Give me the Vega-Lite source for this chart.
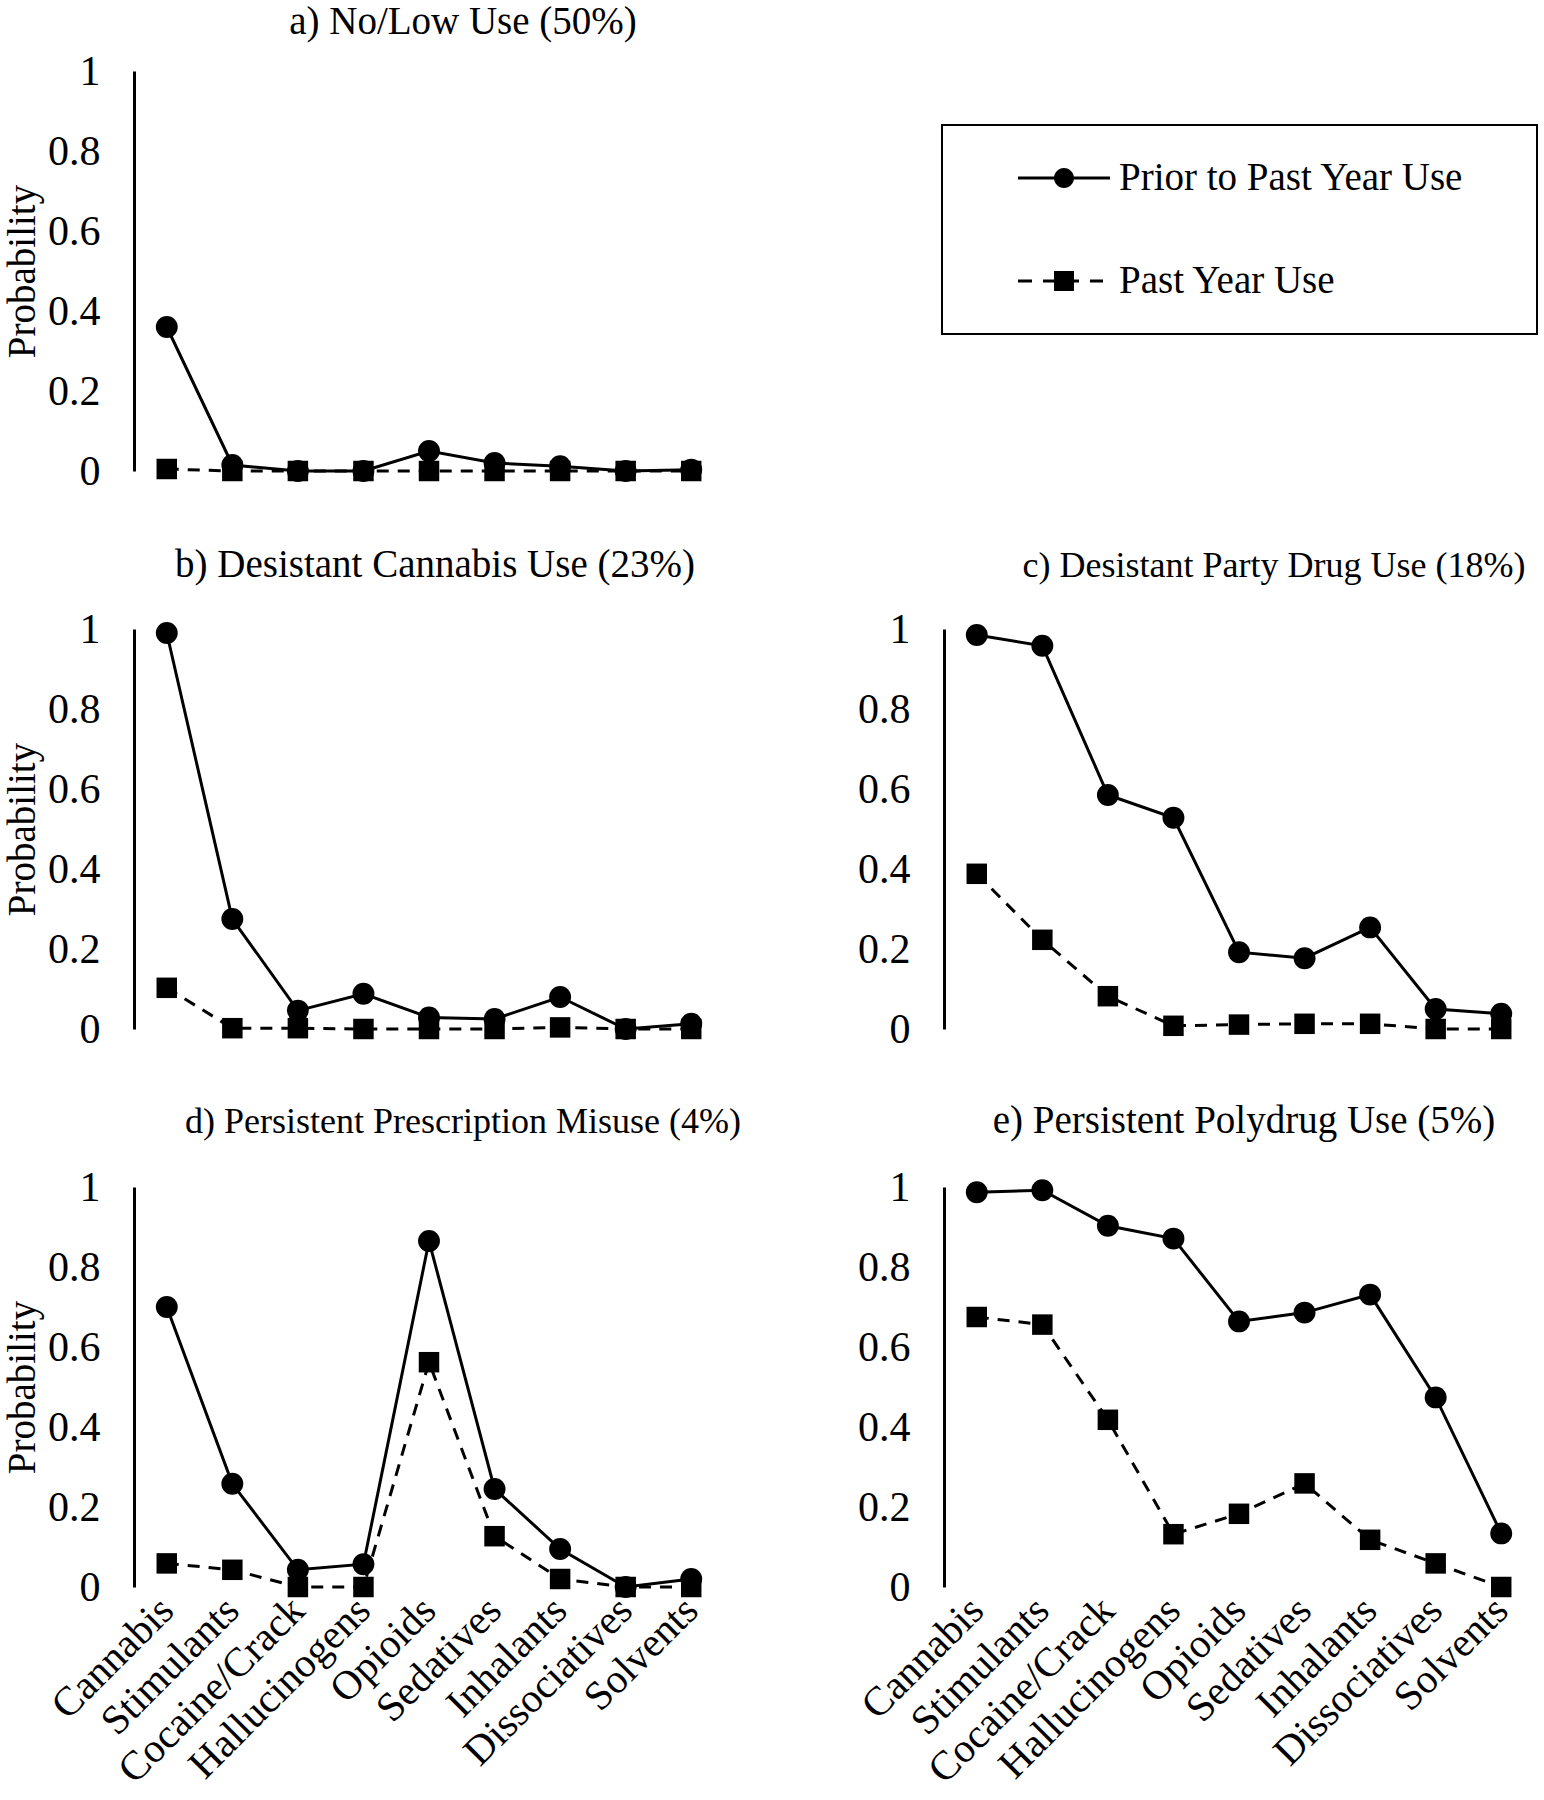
{
  "$schema": "https://vega.github.io/schema/vega-lite/v6.json",
  "autosize": {"type": "pad"},
  "padding": {"left": 3, "top": 3, "right": 0, "bottom": 0},
  "background": "white",
  "datasets": {
    "a": [
      {"drug": "Cannabis", "series": "Prior to Past Year Use", "p": 0.36},
      {"drug": "Stimulants", "series": "Prior to Past Year Use", "p": 0.015},
      {"drug": "Cocaine/Crack", "series": "Prior to Past Year Use", "p": 0.0},
      {"drug": "Hallucinogens", "series": "Prior to Past Year Use", "p": 0.0},
      {"drug": "Opioids", "series": "Prior to Past Year Use", "p": 0.05},
      {"drug": "Sedatives", "series": "Prior to Past Year Use", "p": 0.02},
      {"drug": "Inhalants", "series": "Prior to Past Year Use", "p": 0.012},
      {"drug": "Dissociatives", "series": "Prior to Past Year Use", "p": 0.0},
      {"drug": "Solvents", "series": "Prior to Past Year Use", "p": 0.003},
      {"drug": "Cannabis", "series": "Past Year Use", "p": 0.005},
      {"drug": "Stimulants", "series": "Past Year Use", "p": 0.0},
      {"drug": "Cocaine/Crack", "series": "Past Year Use", "p": 0.0},
      {"drug": "Hallucinogens", "series": "Past Year Use", "p": 0.0},
      {"drug": "Opioids", "series": "Past Year Use", "p": 0.0},
      {"drug": "Sedatives", "series": "Past Year Use", "p": 0.0},
      {"drug": "Inhalants", "series": "Past Year Use", "p": 0.0},
      {"drug": "Dissociatives", "series": "Past Year Use", "p": 0.0},
      {"drug": "Solvents", "series": "Past Year Use", "p": 0.0}
    ],
    "b": [
      {"drug": "Cannabis", "series": "Prior to Past Year Use", "p": 0.99},
      {"drug": "Stimulants", "series": "Prior to Past Year Use", "p": 0.275},
      {"drug": "Cocaine/Crack", "series": "Prior to Past Year Use", "p": 0.046},
      {"drug": "Hallucinogens", "series": "Prior to Past Year Use", "p": 0.088},
      {"drug": "Opioids", "series": "Prior to Past Year Use", "p": 0.029},
      {"drug": "Sedatives", "series": "Prior to Past Year Use", "p": 0.025},
      {"drug": "Inhalants", "series": "Prior to Past Year Use", "p": 0.08},
      {"drug": "Dissociatives", "series": "Prior to Past Year Use", "p": 0.0},
      {"drug": "Solvents", "series": "Prior to Past Year Use", "p": 0.013},
      {"drug": "Cannabis", "series": "Past Year Use", "p": 0.103},
      {"drug": "Stimulants", "series": "Past Year Use", "p": 0.002},
      {"drug": "Cocaine/Crack", "series": "Past Year Use", "p": 0.002},
      {"drug": "Hallucinogens", "series": "Past Year Use", "p": 0.0},
      {"drug": "Opioids", "series": "Past Year Use", "p": 0.0},
      {"drug": "Sedatives", "series": "Past Year Use", "p": 0.0},
      {"drug": "Inhalants", "series": "Past Year Use", "p": 0.004},
      {"drug": "Dissociatives", "series": "Past Year Use", "p": 0.0},
      {"drug": "Solvents", "series": "Past Year Use", "p": 0.0}
    ],
    "c": [
      {"drug": "Cannabis", "series": "Prior to Past Year Use", "p": 0.985},
      {"drug": "Stimulants", "series": "Prior to Past Year Use", "p": 0.958},
      {"drug": "Cocaine/Crack", "series": "Prior to Past Year Use", "p": 0.585},
      {"drug": "Hallucinogens", "series": "Prior to Past Year Use", "p": 0.528},
      {"drug": "Opioids", "series": "Prior to Past Year Use", "p": 0.192},
      {"drug": "Sedatives", "series": "Prior to Past Year Use", "p": 0.177},
      {"drug": "Inhalants", "series": "Prior to Past Year Use", "p": 0.254},
      {"drug": "Dissociatives", "series": "Prior to Past Year Use", "p": 0.05},
      {"drug": "Solvents", "series": "Prior to Past Year Use", "p": 0.038},
      {"drug": "Cannabis", "series": "Past Year Use", "p": 0.388},
      {"drug": "Stimulants", "series": "Past Year Use", "p": 0.223},
      {"drug": "Cocaine/Crack", "series": "Past Year Use", "p": 0.082},
      {"drug": "Hallucinogens", "series": "Past Year Use", "p": 0.008},
      {"drug": "Opioids", "series": "Past Year Use", "p": 0.011},
      {"drug": "Sedatives", "series": "Past Year Use", "p": 0.013},
      {"drug": "Inhalants", "series": "Past Year Use", "p": 0.013},
      {"drug": "Dissociatives", "series": "Past Year Use", "p": 0.0},
      {"drug": "Solvents", "series": "Past Year Use", "p": 0.0}
    ],
    "d": [
      {"drug": "Cannabis", "series": "Prior to Past Year Use", "p": 0.70},
      {"drug": "Stimulants", "series": "Prior to Past Year Use", "p": 0.258},
      {"drug": "Cocaine/Crack", "series": "Prior to Past Year Use", "p": 0.043},
      {"drug": "Hallucinogens", "series": "Prior to Past Year Use", "p": 0.057},
      {"drug": "Opioids", "series": "Prior to Past Year Use", "p": 0.865},
      {"drug": "Sedatives", "series": "Prior to Past Year Use", "p": 0.245},
      {"drug": "Inhalants", "series": "Prior to Past Year Use", "p": 0.095},
      {"drug": "Dissociatives", "series": "Prior to Past Year Use", "p": 0.0},
      {"drug": "Solvents", "series": "Prior to Past Year Use", "p": 0.02},
      {"drug": "Cannabis", "series": "Past Year Use", "p": 0.059},
      {"drug": "Stimulants", "series": "Past Year Use", "p": 0.043},
      {"drug": "Cocaine/Crack", "series": "Past Year Use", "p": 0.0},
      {"drug": "Hallucinogens", "series": "Past Year Use", "p": 0.0},
      {"drug": "Opioids", "series": "Past Year Use", "p": 0.562},
      {"drug": "Sedatives", "series": "Past Year Use", "p": 0.127},
      {"drug": "Inhalants", "series": "Past Year Use", "p": 0.02},
      {"drug": "Dissociatives", "series": "Past Year Use", "p": 0.0},
      {"drug": "Solvents", "series": "Past Year Use", "p": 0.0}
    ],
    "e": [
      {"drug": "Cannabis", "series": "Prior to Past Year Use", "p": 0.987},
      {"drug": "Stimulants", "series": "Prior to Past Year Use", "p": 0.992},
      {"drug": "Cocaine/Crack", "series": "Prior to Past Year Use", "p": 0.903},
      {"drug": "Hallucinogens", "series": "Prior to Past Year Use", "p": 0.871},
      {"drug": "Opioids", "series": "Prior to Past Year Use", "p": 0.664},
      {"drug": "Sedatives", "series": "Prior to Past Year Use", "p": 0.686},
      {"drug": "Inhalants", "series": "Prior to Past Year Use", "p": 0.731},
      {"drug": "Dissociatives", "series": "Prior to Past Year Use", "p": 0.474},
      {"drug": "Solvents", "series": "Prior to Past Year Use", "p": 0.134},
      {"drug": "Cannabis", "series": "Past Year Use", "p": 0.675},
      {"drug": "Stimulants", "series": "Past Year Use", "p": 0.656},
      {"drug": "Cocaine/Crack", "series": "Past Year Use", "p": 0.418},
      {"drug": "Hallucinogens", "series": "Past Year Use", "p": 0.132},
      {"drug": "Opioids", "series": "Past Year Use", "p": 0.183},
      {"drug": "Sedatives", "series": "Past Year Use", "p": 0.259},
      {"drug": "Inhalants", "series": "Past Year Use", "p": 0.118},
      {"drug": "Dissociatives", "series": "Past Year Use", "p": 0.059},
      {"drug": "Solvents", "series": "Past Year Use", "p": 0.0}
    ]
  },
  "bounds": "flush",
  "columns": 2,
  "spacing": {"row": 158, "column": 220},
  "concat": [
    {
      "width": 590, "height": 400,
      "data": {"name": "a"},
      "title": {"text": "a) No/Low Use (50%)", "dx": 34, "offset": 8},
      "layer": [
        {
          "transform": [{"filter": "datum.series === 'Prior to Past Year Use'"}],
          "mark": {"type": "line", "color": "black", "strokeWidth": 3},
          "encoding": {
            "x": {"field": "drug", "type": "nominal", "scale": {"type": "point", "padding": 0.5, "domain": ["Cannabis", "Stimulants", "Cocaine/Crack", "Hallucinogens", "Opioids", "Sedatives", "Inhalants", "Dissociatives", "Solvents"]}, "axis": null},
            "y": {"field": "p", "type": "quantitative", "scale": {"domain": [0, 1]}, "axis": {"title": "Probability", "values": [0, 0.2, 0.4, 0.6, 0.8, 1], "format": "~g"}}
          }
        },
        {
          "transform": [{"filter": "datum.series === 'Past Year Use'"}],
          "mark": {"type": "line", "color": "black", "strokeWidth": 3, "strokeDash": [12, 9]},
          "encoding": {"x": {"field": "drug", "type": "nominal"}, "y": {"field": "p", "type": "quantitative"}}
        },
        {
          "transform": [{"filter": "datum.series === 'Prior to Past Year Use'"}],
          "mark": {"type": "point", "shape": "circle", "filled": true, "color": "black", "opacity": 1, "size": 480, "strokeWidth": 0},
          "encoding": {"x": {"field": "drug", "type": "nominal"}, "y": {"field": "p", "type": "quantitative"}}
        },
        {
          "transform": [{"filter": "datum.series === 'Past Year Use'"}],
          "mark": {"type": "point", "shape": "square", "filled": true, "color": "black", "opacity": 1, "size": 420, "strokeWidth": 0},
          "encoding": {"x": {"field": "drug", "type": "nominal"}, "y": {"field": "p", "type": "quantitative"}}
        },
        {
          "mark": {"type": "point", "filled": true, "color": "black", "size": 0},
          "encoding": {
            "x": {"field": "drug", "type": "nominal"},
            "y": {"field": "p", "type": "quantitative"},
            "shape": {
              "field": "series", "type": "nominal",
              "scale": {
                "domain": ["Prior to Past Year Use", "Past Year Use"],
                "range": [
                  "M-1,-0.033H1V0.033H-1Z M0.217,0A0.217,0.217 0 1,1 -0.217,0A0.217,0.217 0 1,1 0.217,0Z M0,-1 M0,1 M10.13,0",
                  "M-1,-0.033H-0.696V0.033H-1Z M-0.457,-0.033H0.326V0.033H-0.457Z M0.565,-0.033H0.848V0.033H0.565Z M-0.217,-0.217H0.217V0.217H-0.217Z M0,-1 M0,1 M10.13,0"
                ]
              },
              "legend": {
                "title": null, "orient": "none", "legendX": 808, "legendY": 54,
                "padding": 7, "strokeColor": "black",
                "labelFont": "Liberation Serif", "labelFontSize": 39, "labelColor": "black", "labelLimit": 1000,
                "labelOffset": 9, "symbolOffset": 69, "symbolSize": 8464, "symbolStrokeWidth": 0,
                "symbolFillColor": "black", "symbolOpacity": 1, "rowPadding": 11
              }
            }
          }
        }
      ]
    },
    {
      "width": 590, "height": 400,
      "data": {"values": [{"drug": "Cannabis"}]},
      "mark": {"type": "point", "opacity": 0},
      "encoding": {"x": {"field": "drug", "type": "nominal", "axis": null}}
    },
    {
      "width": 590, "height": 400,
      "data": {"name": "b"},
      "title": {"text": "b) Desistant Cannabis Use (23%)", "dx": 6, "offset": 23},
      "layer": [
        {
          "transform": [{"filter": "datum.series === 'Prior to Past Year Use'"}],
          "mark": {"type": "line", "color": "black", "strokeWidth": 3},
          "encoding": {
            "x": {"field": "drug", "type": "nominal", "scale": {"type": "point", "padding": 0.5, "domain": ["Cannabis", "Stimulants", "Cocaine/Crack", "Hallucinogens", "Opioids", "Sedatives", "Inhalants", "Dissociatives", "Solvents"]}, "axis": null},
            "y": {"field": "p", "type": "quantitative", "scale": {"domain": [0, 1]}, "axis": {"title": "Probability", "values": [0, 0.2, 0.4, 0.6, 0.8, 1], "format": "~g"}}
          }
        },
        {
          "transform": [{"filter": "datum.series === 'Past Year Use'"}],
          "mark": {"type": "line", "color": "black", "strokeWidth": 3, "strokeDash": [12, 9]},
          "encoding": {"x": {"field": "drug", "type": "nominal"}, "y": {"field": "p", "type": "quantitative"}}
        },
        {
          "transform": [{"filter": "datum.series === 'Prior to Past Year Use'"}],
          "mark": {"type": "point", "shape": "circle", "filled": true, "color": "black", "opacity": 1, "size": 480, "strokeWidth": 0},
          "encoding": {"x": {"field": "drug", "type": "nominal"}, "y": {"field": "p", "type": "quantitative"}}
        },
        {
          "transform": [{"filter": "datum.series === 'Past Year Use'"}],
          "mark": {"type": "point", "shape": "square", "filled": true, "color": "black", "opacity": 1, "size": 420, "strokeWidth": 0},
          "encoding": {"x": {"field": "drug", "type": "nominal"}, "y": {"field": "p", "type": "quantitative"}}
        }
      ]
    },
    {
      "width": 590, "height": 400,
      "data": {"name": "c"},
      "title": {"text": "c) Desistant Party Drug Use (18%)", "dx": 35, "offset": 23, "fontSize": 36},
      "layer": [
        {
          "transform": [{"filter": "datum.series === 'Prior to Past Year Use'"}],
          "mark": {"type": "line", "color": "black", "strokeWidth": 3},
          "encoding": {
            "x": {"field": "drug", "type": "nominal", "scale": {"type": "point", "padding": 0.5, "domain": ["Cannabis", "Stimulants", "Cocaine/Crack", "Hallucinogens", "Opioids", "Sedatives", "Inhalants", "Dissociatives", "Solvents"]}, "axis": null},
            "y": {"field": "p", "type": "quantitative", "scale": {"domain": [0, 1]}, "axis": {"title": null, "values": [0, 0.2, 0.4, 0.6, 0.8, 1], "format": "~g"}}
          }
        },
        {
          "transform": [{"filter": "datum.series === 'Past Year Use'"}],
          "mark": {"type": "line", "color": "black", "strokeWidth": 3, "strokeDash": [12, 9]},
          "encoding": {"x": {"field": "drug", "type": "nominal"}, "y": {"field": "p", "type": "quantitative"}}
        },
        {
          "transform": [{"filter": "datum.series === 'Prior to Past Year Use'"}],
          "mark": {"type": "point", "shape": "circle", "filled": true, "color": "black", "opacity": 1, "size": 480, "strokeWidth": 0},
          "encoding": {"x": {"field": "drug", "type": "nominal"}, "y": {"field": "p", "type": "quantitative"}}
        },
        {
          "transform": [{"filter": "datum.series === 'Past Year Use'"}],
          "mark": {"type": "point", "shape": "square", "filled": true, "color": "black", "opacity": 1, "size": 420, "strokeWidth": 0},
          "encoding": {"x": {"field": "drug", "type": "nominal"}, "y": {"field": "p", "type": "quantitative"}}
        }
      ]
    },
    {
      "width": 590, "height": 400,
      "data": {"name": "d"},
      "title": {"text": "d) Persistent Prescription Misuse (4%)", "dx": 34, "offset": 25, "fontSize": 36},
      "layer": [
        {
          "transform": [{"filter": "datum.series === 'Prior to Past Year Use'"}],
          "mark": {"type": "line", "color": "black", "strokeWidth": 3},
          "encoding": {
            "x": {"field": "drug", "type": "nominal", "scale": {"type": "point", "padding": 0.5, "domain": ["Cannabis", "Stimulants", "Cocaine/Crack", "Hallucinogens", "Opioids", "Sedatives", "Inhalants", "Dissociatives", "Solvents"]}, "axis": {"title": null, "domain": false, "ticks": false, "labelAngle": -45, "labelAlign": "right", "labelBaseline": "middle", "labelPadding": 17, "labelLimit": 0, "labelOverlap": false, "labelFontSize": 41}},
            "y": {"field": "p", "type": "quantitative", "scale": {"domain": [0, 1]}, "axis": {"title": "Probability", "values": [0, 0.2, 0.4, 0.6, 0.8, 1], "format": "~g"}}
          }
        },
        {
          "transform": [{"filter": "datum.series === 'Past Year Use'"}],
          "mark": {"type": "line", "color": "black", "strokeWidth": 3, "strokeDash": [12, 9]},
          "encoding": {"x": {"field": "drug", "type": "nominal"}, "y": {"field": "p", "type": "quantitative"}}
        },
        {
          "transform": [{"filter": "datum.series === 'Prior to Past Year Use'"}],
          "mark": {"type": "point", "shape": "circle", "filled": true, "color": "black", "opacity": 1, "size": 480, "strokeWidth": 0},
          "encoding": {"x": {"field": "drug", "type": "nominal"}, "y": {"field": "p", "type": "quantitative"}}
        },
        {
          "transform": [{"filter": "datum.series === 'Past Year Use'"}],
          "mark": {"type": "point", "shape": "square", "filled": true, "color": "black", "opacity": 1, "size": 420, "strokeWidth": 0},
          "encoding": {"x": {"field": "drug", "type": "nominal"}, "y": {"field": "p", "type": "quantitative"}}
        }
      ]
    },
    {
      "width": 590, "height": 400,
      "data": {"name": "e"},
      "title": {"text": "e) Persistent Polydrug Use (5%)", "dx": 5, "offset": 25},
      "layer": [
        {
          "transform": [{"filter": "datum.series === 'Prior to Past Year Use'"}],
          "mark": {"type": "line", "color": "black", "strokeWidth": 3},
          "encoding": {
            "x": {"field": "drug", "type": "nominal", "scale": {"type": "point", "padding": 0.5, "domain": ["Cannabis", "Stimulants", "Cocaine/Crack", "Hallucinogens", "Opioids", "Sedatives", "Inhalants", "Dissociatives", "Solvents"]}, "axis": {"title": null, "domain": false, "ticks": false, "labelAngle": -45, "labelAlign": "right", "labelBaseline": "middle", "labelPadding": 17, "labelLimit": 0, "labelOverlap": false, "labelFontSize": 41}},
            "y": {"field": "p", "type": "quantitative", "scale": {"domain": [0, 1]}, "axis": {"title": null, "values": [0, 0.2, 0.4, 0.6, 0.8, 1], "format": "~g"}}
          }
        },
        {
          "transform": [{"filter": "datum.series === 'Past Year Use'"}],
          "mark": {"type": "line", "color": "black", "strokeWidth": 3, "strokeDash": [12, 9]},
          "encoding": {"x": {"field": "drug", "type": "nominal"}, "y": {"field": "p", "type": "quantitative"}}
        },
        {
          "transform": [{"filter": "datum.series === 'Prior to Past Year Use'"}],
          "mark": {"type": "point", "shape": "circle", "filled": true, "color": "black", "opacity": 1, "size": 480, "strokeWidth": 0},
          "encoding": {"x": {"field": "drug", "type": "nominal"}, "y": {"field": "p", "type": "quantitative"}}
        },
        {
          "transform": [{"filter": "datum.series === 'Past Year Use'"}],
          "mark": {"type": "point", "shape": "square", "filled": true, "color": "black", "opacity": 1, "size": 420, "strokeWidth": 0},
          "encoding": {"x": {"field": "drug", "type": "nominal"}, "y": {"field": "p", "type": "quantitative"}}
        }
      ]
    }
  ],
  "config": {
    "view": {"stroke": null},
    "font": "Liberation Serif",
    "style": {
      "guide-label": {"font": "Liberation Serif", "fill": "black"},
      "guide-title": {"font": "Liberation Serif", "fill": "black"},
      "group-title": {"font": "Liberation Serif"}
    },
    "title": {"font": "Liberation Serif", "fontSize": 39, "fontWeight": "normal", "color": "black", "anchor": "middle"},
    "axis": {
      "labelFont": "Liberation Serif", "labelFontSize": 42, "labelColor": "black",
      "titleFont": "Liberation Serif", "titleFontSize": 39, "titleFontWeight": "normal", "titleColor": "black",
      "grid": false
    },
    "axisY": {
      "ticks": false, "domainColor": "black", "domainWidth": 3, "labelPadding": 34, "titlePadding": 5
    },
    "legend": {"strokeWidth": 2, "labelFont": "Liberation Serif", "labelFontSize": 39, "labelColor": "black"}
  }
}
